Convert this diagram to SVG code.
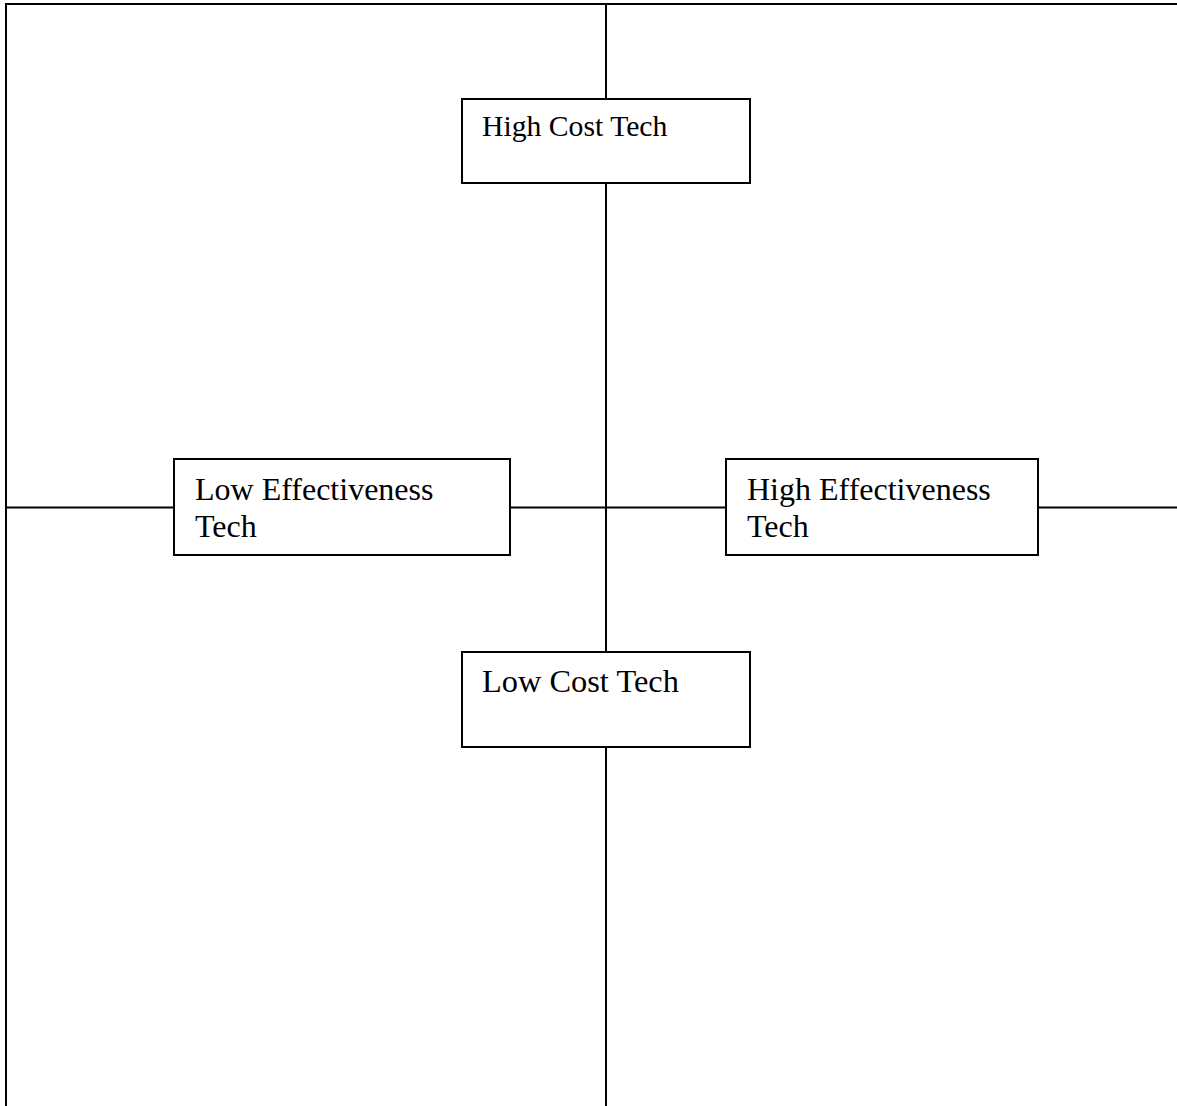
<svg xmlns="http://www.w3.org/2000/svg" width="1177" height="1106" viewBox="0 0 1177 1106">
<style>
.ln{stroke:#000;stroke-width:2;fill:none}
.bx{fill:#fff;stroke:#000;stroke-width:2}
.t{font-family:"Liberation Serif","Times New Roman",serif;font-size:32px;fill:#000}
.ts{font-size:29.7px}
.tl{font-size:32.4px}
</style>
<rect width="1177" height="1106" fill="#fff"/>
<g id="connectors">
<line class="ln" x1="5" y1="4" x2="1177" y2="4"/>
<line class="ln" x1="6" y1="3" x2="6" y2="1106"/>
<line class="ln" x1="606" y1="4" x2="606" y2="1106"/>
<line class="ln" x1="6" y1="507.5" x2="1177" y2="507.5"/>
</g>
<g id="high-cost">
<rect class="bx" x="462" y="99" width="288" height="84"/>
<text class="t ts" x="482" y="136">High Cost Tech</text>
</g>
<g id="low-effectiveness">
<rect class="bx" x="174" y="459" width="336" height="96"/>
<text class="t" x="195" y="500">Low Effectiveness</text>
<text class="t" x="195" y="537">Tech</text>
</g>
<g id="high-effectiveness">
<rect class="bx" x="726" y="459" width="312" height="96"/>
<text class="t" x="747" y="500">High Effectiveness</text>
<text class="t" x="747" y="537">Tech</text>
</g>
<g id="low-cost">
<rect class="bx" x="462" y="652" width="288" height="95"/>
<text class="t tl" x="482" y="692">Low Cost Tech</text>
</g>
</svg>
